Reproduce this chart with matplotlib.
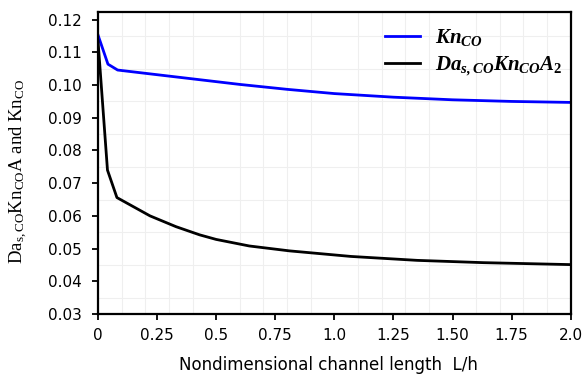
import matplotlib
matplotlib.use("Agg")
import matplotlib.pyplot as plt
import numpy as np

# values
x_kn = [0, 0.042, 0.083, 0.2, 0.4, 0.6, 0.8, 1.0, 1.25, 1.5, 1.75, 2.0]
kn_co = [0.1153, 0.1064, 0.1046, 0.1036, 0.1019, 0.1002, 0.0987, 0.0974,
         0.0963, 0.0955, 0.0950, 0.0947]

x_da = [0, 0.04, 0.08, 0.22, 0.33, 0.43, 0.5, 0.64, 0.81, 1.07, 1.35, 1.63, 2.0]
da_kn_a = [0.1135, 0.0740, 0.0656, 0.0600, 0.0567, 0.0542, 0.0528, 0.0508, 0.0493,
           0.0476, 0.0464, 0.0457, 0.0451]

xticks = [0, 0.25, 0.5, 0.75, 1.0, 1.25, 1.5, 1.75, 2.0]
xticklabels = ["0", "0.25", "0.5", "0.75", "1.0", "1.25", "1.50", "1.75", "2.0"]
yticks = [0.03, 0.04, 0.05, 0.06, 0.07, 0.08, 0.09, 0.10, 0.11, 0.12]

plt.rcParams["font.family"] = "DejaVu Sans"
plt.rcParams["mathtext.fontset"] = "custom"
plt.rcParams["mathtext.rm"] = "Liberation Serif"
plt.rcParams["mathtext.it"] = "Liberation Serif:italic"
plt.rcParams["mathtext.bf"] = "Liberation Serif:bold"
plt.rcParams["mathtext.bfit"] = "Liberation Serif:italic:bold"

fig = plt.figure(figsize=(5.88, 3.75), dpi=100)
ax = fig.add_axes([0.1667, 0.1627, 0.9706 - 0.1667, 0.9667 - 0.1627])

ax.plot(x_kn, kn_co, color="#0000ff", lw=2.0, label=r"$\mathbfit{Kn_{CO}}$")
ax.plot(x_da, da_kn_a, color="black", lw=2.0,
        label=r"$\mathbfit{Da_{s,CO}Kn_{CO}A}_{\mathbf{2}}$")

ax.set_xlim(0, 2.0)
ax.set_ylim(0.03, 0.1222)
ax.set_xticks(xticks)
ax.set_xticklabels(xticklabels)
ax.set_yticks(yticks)
ax.set_yticklabels(["%.2f" % v for v in yticks])
ax.set_xticks(np.arange(0, 2.01, 0.1), minor=True)
ax.set_yticks(np.arange(0.03, 0.1225, 0.005), minor=True)
ax.tick_params(which="minor", length=0)
ax.grid(which="minor", color="#efefef", lw=0.8)
ax.set_axisbelow(True)

ax.tick_params(which="major", labelsize=11, length=4, width=1.3)
ax.tick_params(axis="x", pad=6)
ax.tick_params(axis="y", pad=7.5)
for s in ax.spines.values():
    s.set_linewidth(1.6)

ax.set_xlabel("Nondimensional channel length  L/h", fontsize=12)
ax.xaxis.set_label_coords(0.488, -0.138)
ax.set_ylabel(r"$\mathrm{Da_{s,CO}Kn_{CO}A\ and\ Kn_{CO}}$", fontsize=13.5)
ax.yaxis.set_label_coords(-0.143, 0.473)

ax.legend(loc="upper right", frameon=False, fontsize=15, handlelength=1.7,
          handletextpad=0.7, labelspacing=0.3, borderpad=0.4, borderaxespad=0,
          bbox_to_anchor=(1.0, 0.98))

fig.savefig("out.png", dpi=100)
